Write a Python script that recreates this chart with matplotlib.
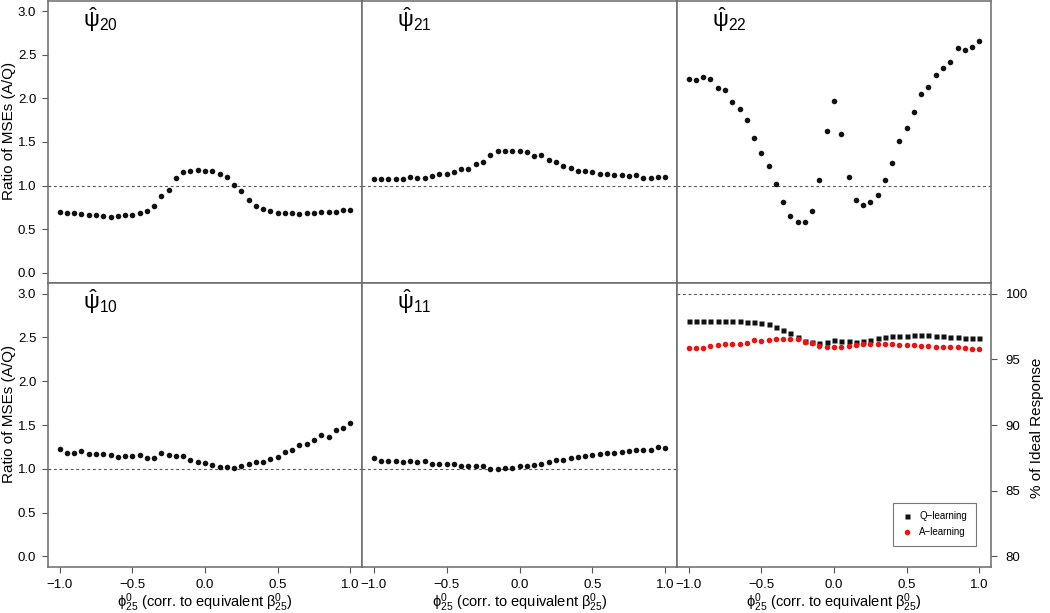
import numpy as np
import matplotlib.pyplot as plt

plt.rcParams['font.family'] = ['Liberation Sans', 'DejaVu Sans']
plt.rcParams['mathtext.fontset'] = 'custom'
plt.rcParams['mathtext.rm'] = 'Liberation Sans'
plt.rcParams['mathtext.it'] = 'Liberation Sans:italic'
plt.rcParams['mathtext.bf'] = 'Liberation Sans:bold'

# x grid: phi_25^0 from -1 to 1 in steps of 0.05
phi = np.round(np.arange(-1.0, 1.0001, 0.05), 2)

# ratio of MSEs (A/Q)
psi20 = [0.695, 0.68, 0.68, 0.67, 0.66, 0.656, 0.653, 0.64, 0.645, 0.656,
         0.664, 0.683, 0.71, 0.767, 0.878, 0.954, 1.088, 1.156, 1.17, 1.18,
         1.17, 1.168, 1.134, 1.095, 1.004, 0.935, 0.828, 0.767, 0.733, 0.71,
         0.683, 0.683, 0.687, 0.67, 0.683, 0.687, 0.69, 0.698, 0.698, 0.714, 0.714]
psi21 = [1.073, 1.076, 1.076, 1.076, 1.076, 1.099, 1.092, 1.092, 1.111, 1.134,
         1.134, 1.153, 1.191, 1.187, 1.252, 1.271, 1.347, 1.393, 1.393, 1.401,
         1.397, 1.385, 1.336, 1.347, 1.29, 1.267, 1.221, 1.206, 1.172, 1.164,
         1.153, 1.134, 1.13, 1.126, 1.118, 1.115, 1.122, 1.092, 1.092, 1.103, 1.103]
psi22 = [2.225, 2.214, 2.248, 2.221, 2.118, 2.092, 1.962, 1.882, 1.748, 1.546,
         1.374, 1.225, 1.015, 0.805, 0.653, 0.584, 0.576, 0.71, 1.065, 1.622,
         1.973, 1.595, 1.103, 0.828, 0.771, 0.809, 0.889, 1.065, 1.263, 1.515,
         1.66, 1.847, 2.046, 2.13, 2.275, 2.347, 2.424, 2.58, 2.561, 2.595, 2.66]
psi10 = [1.221, 1.176, 1.183, 1.206, 1.168, 1.168, 1.168, 1.153, 1.137, 1.141,
         1.141, 1.156, 1.126, 1.126, 1.179, 1.153, 1.145, 1.145, 1.099, 1.076,
         1.065, 1.042, 1.019, 1.023, 1.015, 1.034, 1.053, 1.073, 1.076, 1.115,
         1.13, 1.187, 1.218, 1.271, 1.286, 1.324, 1.385, 1.359, 1.443, 1.462, 1.527]
psi11 = [1.118, 1.095, 1.092, 1.092, 1.076, 1.084, 1.076, 1.088, 1.057, 1.053,
         1.053, 1.05, 1.031, 1.027, 1.027, 1.027, 0.996, 0.996, 1.004, 1.008,
         1.031, 1.031, 1.042, 1.057, 1.08, 1.099, 1.103, 1.118, 1.137, 1.141,
         1.153, 1.172, 1.183, 1.179, 1.191, 1.202, 1.218, 1.214, 1.218, 1.252, 1.233]

# % of ideal response
q_learning = [97.89, 97.91, 97.91, 97.91, 97.94, 97.94, 97.94, 97.89, 97.84, 97.81,
              97.76, 97.66, 97.46, 97.25, 97.0, 96.72, 96.36, 96.28, 96.23, 96.28,
              96.44, 96.39, 96.39, 96.34, 96.41, 96.49, 96.64, 96.69, 96.77, 96.77,
              96.77, 96.84, 96.82, 96.82, 96.77, 96.77, 96.69, 96.72, 96.62, 96.59, 96.59]
a_learning = [95.85, 95.88, 95.88, 96.0, 96.08, 96.13, 96.13, 96.18, 96.26, 96.44,
              96.41, 96.46, 96.51, 96.56, 96.56, 96.51, 96.34, 96.23, 96.0, 95.95,
              95.95, 95.95, 96.03, 96.08, 96.18, 96.18, 96.16, 96.16, 96.13, 96.08,
              96.08, 96.06, 96.03, 96.03, 95.95, 95.9, 95.9, 95.9, 95.85, 95.8, 95.8]

xticks = [-1.0, -0.5, 0.0, 0.5, 1.0]
xtick_labels = ['\u22121.0', '\u22120.5', '0.0', '0.5', '1.0']
yticks = [0.0, 0.5, 1.0, 1.5, 2.0, 2.5, 3.0]
ytick_labels = ['0.0', '0.5', '1.0', '1.5', '2.0', '2.5', '3.0']
pct_ticks = [80, 85, 90, 95, 100]

xlab = r'$\mathrm{\phi}^{0}_{25}$ (corr. to equivalent $\mathrm{\beta}^{0}_{25}$)'
ylab = 'Ratio of MSEs (A/Q)'

W, H = 1050, 613
fig = plt.figure(figsize=(W / 100, H / 100), dpi=100)


def box(x0, y0, x1, y1):
    return [x0 / W, 1 - y1 / H, (x1 - x0) / W, (y1 - y0) / H]


cols = [(48, 362), (362, 677), (677, 991)]
rows = [(1, 283), (283, 567)]
frame_col = '#6a6a6a'
dash = (0, (2.5, 2.5))


def style(ax, xt, yt):
    for s in ax.spines.values():
        s.set_color(frame_col)
        s.set_linewidth(1.1)
    ax.set_xlim(-1.08, 1.08)
    ax.tick_params(direction='out', length=4.5, width=0.8, color='#555555',
                   labelsize=9.5, pad=4)
    if xt:
        ax.set_xticks(xticks, xtick_labels)
    else:
        ax.set_xticks([])
    if yt:
        ax.set_yticks(yticks, ytick_labels)
    else:
        ax.set_yticks([])


panels = [(psi20, r'$\hat{\mathrm{\psi}}_{20}$', 0, 0),
          (psi21, r'$\hat{\mathrm{\psi}}_{21}$', 0, 1),
          (psi22, r'$\hat{\mathrm{\psi}}_{22}$', 0, 2),
          (psi10, r'$\hat{\mathrm{\psi}}_{10}$', 1, 0),
          (psi11, r'$\hat{\mathrm{\psi}}_{11}$', 1, 1)]

for vals, lab, r, c in panels:
    ax = fig.add_axes(box(cols[c][0], rows[r][0], cols[c][1], rows[r][1]))
    ax.axhline(1.0, color='#555555', lw=0.8, ls=dash, zorder=1)
    ax.plot(phi, vals, 'o', color='#111111', ms=4.0, mec='none', zorder=3)
    ax.set_ylim(-0.12, 3.12)
    style(ax, r == 1, c == 0)
    ax.text(0.11, 0.985, lab, transform=ax.transAxes, ha='left', va='top',
            fontsize=16)

# bottom right: % of ideal response
ax = fig.add_axes(box(cols[2][0], rows[1][0], cols[2][1], rows[1][1]))
ax.axhline(100, color='#555555', lw=0.8, ls=dash, zorder=1)
ax.plot(phi, q_learning, 's', color='#111111', ms=3.6, mec='none',
        label='Q\u2212learning', zorder=3)
ax.plot(phi, a_learning, 'o', color='#ee1111', ms=4.0, mec='none',
        label='A\u2212learning', zorder=3)
ax.set_ylim(79.2, 100.8)
style(ax, True, False)
ax.yaxis.tick_right()
ax.tick_params(axis='y', pad=6)
ax.set_yticks(pct_ticks, [str(t) for t in pct_ticks])
leg = ax.legend(loc='lower right', bbox_to_anchor=(0.952, 0.074), fontsize=7,
                frameon=True, fancybox=False, edgecolor='#555555',
                handlelength=1.0, handletextpad=0.8, borderpad=0.9,
                labelspacing=0.6, borderaxespad=0)
leg.get_frame().set_linewidth(0.8)

# axis labels placed in figure pixels
fig.text(9 / W, 1 - 131 / H, ylab, rotation=90, ha='center', va='center', fontsize=11)
fig.text(9 / W, 1 - 414 / H, ylab, rotation=90, ha='center', va='center', fontsize=11)
fig.text(1037 / W, 1 - 428 / H, '% of Ideal Response', rotation=90,
         ha='center', va='center', fontsize=11)
for c0, c1 in cols:
    fig.text((c0 + c1) / 2 / W, 1 - 607 / H, xlab, ha='center', va='baseline',
             fontsize=10.5)

fig.savefig('out.png', dpi=100)
